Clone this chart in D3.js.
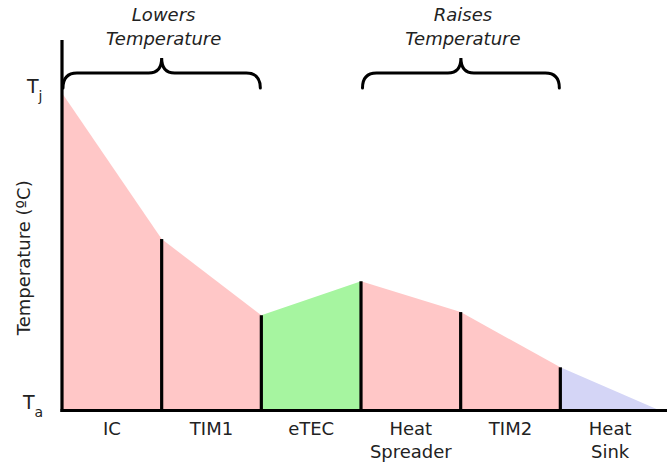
<!DOCTYPE html>
<html>
<head>
<meta charset="utf-8">
<script src="https://cdn.jsdelivr.net/npm/d3@7"></script>
<style>
  html, body { margin: 0; padding: 0; background: #fff; }
  svg { display: block; font-family: "DejaVu Sans", Verdana, sans-serif; }
</style>
</head>
<body>
<svg id="chart" width="672" height="463"></svg>
<script>
// ---- data ----
const categories = ["IC", "TIM1", "eTEC", "Heat Spreader", "TIM2", "Heat Sink"];
const categoryLines = [["IC"], ["TIM1"], ["eTEC"], ["Heat", "Spreader"], ["TIM2"], ["Heat", "Sink"]];
// relative temperature at each layer boundary (Ta = 0, Tj = 100)
const boundaryTemps = [100, 54, 30, 40.7, 31, 13.6, 0];
const segmentKind = ["pos", "pos", "tec", "pos", "pos", "sink"];
const yTicks = [{ v: 100, main: "T", sub: "j" }, { v: 0, main: "T", sub: "a" }];
const braces = [
  { lines: ["Lowers", "Temperature"], from: 0, to: 2 },
  { lines: ["Raises", "Temperature"], from: 3, to: 5 }
];
const yTitle = "Temperature (ºC)";

// ---- layout ----
const svg = d3.select("#chart");
const x = d3.scaleLinear().domain([0, categories.length]).range([62, 660]);
const y = d3.scaleLinear().domain([0, 100]).range([410.5, 93]);
const fillColor = d3.scaleOrdinal().domain(["pos", "tec", "sink"]).range(["#ffc7c7", "#a6f5a0", "#d4d5f6"]);

// segment areas
const area = d3.area().x(d => x(d.i)).y0(y(0)).y1(d => y(d.t));
categories.forEach((c, i) => {
  const pts = [{ i: i, t: boundaryTemps[i] }, { i: i + 1, t: boundaryTemps[i + 1] }];
  svg.append("path").attr("d", area(pts)).attr("fill", fillColor(segmentKind[i]));
});

// vertical boundary lines
d3.range(1, categories.length).forEach(i => {
  svg.append("line")
    .attr("x1", x(i)).attr("x2", x(i))
    .attr("y1", y(boundaryTemps[i])).attr("y2", y(0))
    .attr("stroke", "#000").attr("stroke-width", 3.2);
});

// axes
svg.append("line").attr("x1", x(0)).attr("x2", x(0)).attr("y1", 40).attr("y2", y(0) + 1.5)
  .attr("stroke", "#000").attr("stroke-width", 3.2);
svg.append("line").attr("x1", x(0) - 1.5).attr("x2", 667).attr("y1", y(0)).attr("y2", y(0))
  .attr("stroke", "#000").attr("stroke-width", 3.2);

// y tick labels (T_j, T_a)
yTicks.forEach(t => {
  const txt = svg.append("text")
    .attr("x", t.v === 0 ? 23 : 27).attr("y", y(t.v) + (t.v === 0 ? -2 : 0))
    .attr("font-size", 19).attr("fill", "#222");
  txt.append("tspan").text(t.main);
  txt.append("tspan").attr("dy", 8).attr("font-size", 14).text(t.sub);
});

// y axis title
svg.append("text")
  .attr("transform", `translate(30, ${(y(0) + y(100)) / 2 + 6}) rotate(-90)`)
  .attr("text-anchor", "middle").attr("font-size", 18).attr("fill", "#222")
  .text(yTitle);

// category labels
categoryLines.forEach((lines, i) => {
  const cx = (x(i) + x(i + 1)) / 2;
  const t = svg.append("text").attr("text-anchor", "middle").attr("font-size", 18).attr("fill", "#222");
  lines.forEach((l, k) => {
    t.append("tspan").attr("x", cx).attr("y", 435 + k * 23).text(l);
  });
});

// braces
const yh = 73, yTip = 88, yPeak = 58;
braces.forEach(b => {
  const x0 = x(b.from) + (b.from === 0 ? 1 : 1.5), x1 = x(b.to) - 1, m = (x0 + x1) / 2;
  const r = 14, rm = 13;
  const p = d3.path();
  p.moveTo(x0, yTip);
  p.quadraticCurveTo(x0, yh, x0 + r, yh);
  p.lineTo(m - rm, yh);
  p.quadraticCurveTo(m, yh, m, yPeak);
  p.quadraticCurveTo(m, yh, m + rm, yh);
  p.lineTo(x1 - r, yh);
  p.quadraticCurveTo(x1, yh, x1, yTip);
  svg.append("path").attr("d", p.toString()).attr("fill", "none")
    .attr("stroke", "#000").attr("stroke-width", 3).attr("stroke-linecap", "round");
  const t = svg.append("text").attr("text-anchor", "middle").attr("font-size", 18)
    .attr("font-style", "italic").attr("fill", "#222");
  b.lines.forEach((l, k) => {
    t.append("tspan").attr("x", m + 2).attr("y", 21 + k * 24).text(l);
  });
});
</script>
</body>
</html>
